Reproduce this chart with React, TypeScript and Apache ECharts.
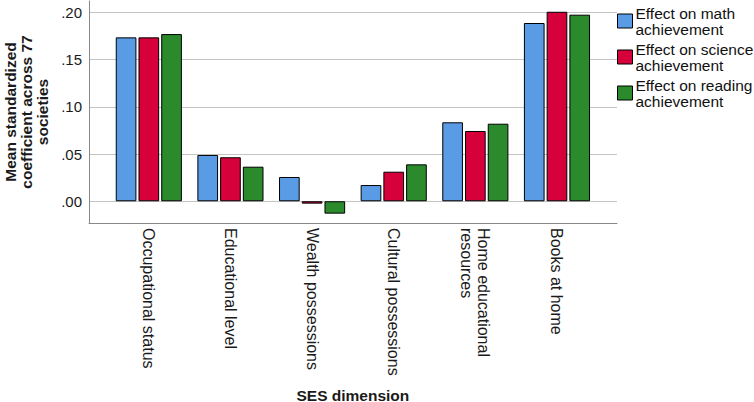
import React, { useEffect, useRef } from "react";
import * as echarts from "echarts";

const categories = [
  "Occupational status",
  "Educational level",
  "Wealth possessions",
  "Cultural possessions",
  "Home educational\nresources",
  "Books at home",
];
const mathValues = [0.1735, 0.049, 0.0257, 0.0172, 0.0836, 0.1887];
const scienceValues = [0.1735, 0.0466, -0.0025, 0.0313, 0.0744, 0.2006];
const readingValues = [0.177, 0.0366, -0.0131, 0.0391, 0.0821, 0.1975];
const seriesNames = [
  "Effect on math\nachievement",
  "Effect on science\nachievement",
  "Effect on reading\nachievement",
];
const seriesColors = ["#5a9be6", "#d6003a", "#2b8a2b"];
const yMin = -0.023;
const yMax = 0.212;
const yStep = 0.05;

const FONT = "'Liberation Sans', Arial, sans-serif";

export default function App() {
  const ref = useRef<HTMLDivElement>(null);

  useEffect(() => {
    if (!ref.current) return;
    const chart = echarts.init(ref.current, null, { renderer: "svg" });
    const values = [mathValues, scienceValues, readingValues];
    const gridTop = 1;
    const gridHeight = 222;

    chart.setOption({
      animation: false,
      backgroundColor: "#ffffff",
      textStyle: { fontFamily: FONT },
      legend: {
        orient: "vertical",
        left: 617,
        top: 5,
        padding: 0,
        itemWidth: 15,
        itemHeight: 14,
        itemGap: 4,
        icon: "rect",
        selectedMode: false,
        textStyle: {
          fontFamily: FONT,
          fontSize: 15.5,
          lineHeight: 16,
          color: "#111",
          padding: [0, 0, 0, -2],
        },
        itemStyle: { borderColor: "#000", borderWidth: 1 },
        data: seriesNames,
      },
      grid: [
        { left: 89, top: gridTop, width: 528, height: gridHeight, containLabel: false, outerBoundsMode: "none" },
        { left: 108, top: gridTop, width: 489.8, height: gridHeight, containLabel: false, outerBoundsMode: "none" },
      ],
      xAxis: [
        {
          gridIndex: 0,
          type: "value",
          min: 0,
          max: 1,
          position: "bottom",
          axisLine: { show: true, onZero: false, lineStyle: { color: "#888", width: 1 } },
          axisTick: { show: false },
          axisLabel: { show: false },
          splitLine: { show: false },
        },
        {
          gridIndex: 1,
          type: "category",
          data: categories,
          position: "bottom",
          axisLine: { show: false, onZero: false },
          axisTick: { show: false },
          splitLine: { show: false },
          axisLabel: {
            rotate: -90,
            margin: 5,
            interval: 0,
            fontFamily: FONT,
            fontSize: 16,
            lineHeight: 17,
            color: "#1a1a1a",
          },
          name: "SES dimension",
          nameLocation: "middle",
          nameGap: 164,
          nameTextStyle: {
            fontFamily: FONT,
            fontSize: 15.5,
            fontWeight: "bold",
            color: "#1a1a1a",
          },
        },
      ],
      yAxis: [
        {
          gridIndex: 0,
          type: "value",
          min: yMin,
          max: yMax,
          minInterval: yStep,
          maxInterval: yStep,
          axisLine: { show: true, lineStyle: { color: "#888", width: 1 } },
          axisTick: { show: false },
          axisLabel: {
            margin: 7,
            fontFamily: FONT,
            fontSize: 15,
            color: "#1a1a1a",
            padding: [6, 0, 0, 0],
            formatter: (v: number) => {
              const k = Math.round(v * 100);
              if (Math.abs(v * 100 - k) > 1e-6 || k % 5 !== 0 || k < 0 || k > 20) return "";
              return (k / 100).toFixed(2).replace(/^0/, "");
            },
          },
          splitLine: {
            show: true,
            showMinLine: false,
            showMaxLine: false,
            lineStyle: { color: "#c4c4c4", width: 1 },
          },
          name: "Mean standardized\ncoefficient across 77\nsocieties",
          nameLocation: "middle",
          nameRotate: 90,
          nameGap: 39,
          nameTextStyle: {
            fontFamily: FONT,
            fontSize: 15.5,
            fontWeight: "bold",
            lineHeight: 16,
            color: "#1a1a1a",
            align: "center",
          },
        },
        {
          gridIndex: 1,
          type: "value",
          min: yMin,
          max: yMax,
          show: false,
          splitLine: { show: false },
        },
      ],
      series: values.map((vals, i) => ({
        name: seriesNames[i],
        type: "bar",
        xAxisIndex: 1,
        yAxisIndex: 1,
        data: vals,
        barGap: "10%",
        barCategoryGap: "19%",
        itemStyle: {
          color: seriesColors[i],
          borderColor: "#000",
          borderWidth: 1,
        },
      })),
    });

    return () => chart.dispose();
  }, []);

  return (
    <div
      ref={ref}
      style={{ position: "fixed", left: 0, top: 0, width: 754, height: 402, background: "#fff" }}
    />
  );
}
